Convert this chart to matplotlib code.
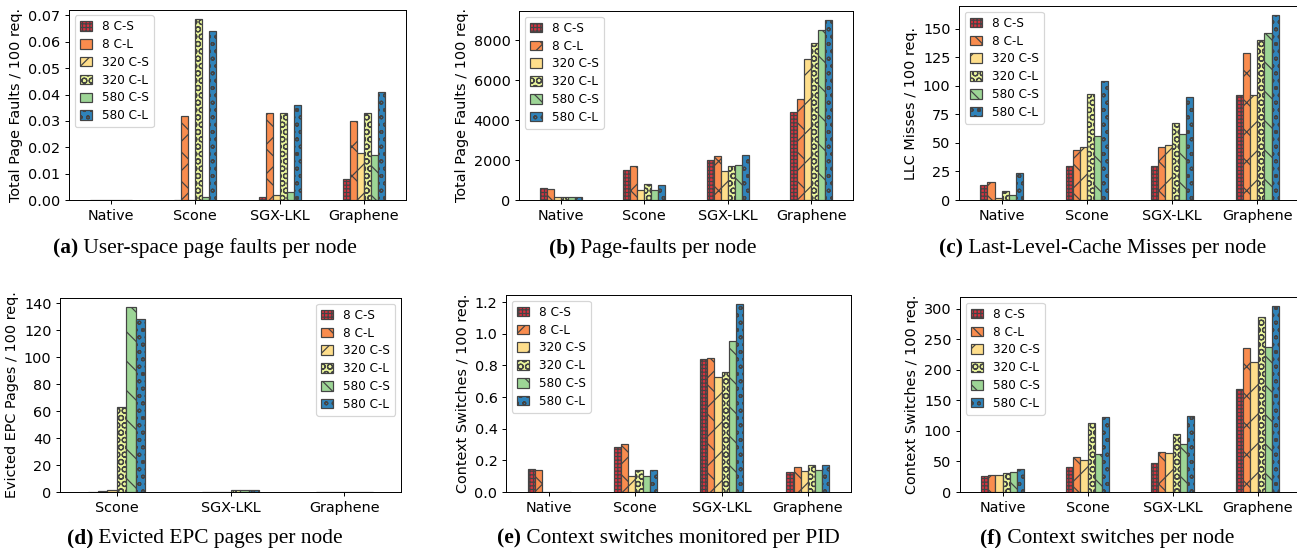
import matplotlib
matplotlib.use("Agg")
import matplotlib.pyplot as plt
import numpy as np

# ---------------- data ----------------
series = ["8 C-S", "8 C-L", "320 C-S", "320 C-L", "580 C-S", "580 C-L"]
cats4 = ["Native", "Scone", "SGX-LKL", "Graphene"]
cats3 = ["Scone", "SGX-LKL", "Graphene"]

# (a) user-space page faults per node
a_8cs = [0, 0, 0.001, 0.008]
a_8cl = [0, 0.032, 0.033, 0.030]
a_320cs = [0, 0, 0.002, 0.018]
a_320cl = [0, 0.0688, 0.033, 0.033]
a_580cs = [0, 0.001, 0.003, 0.017]
a_580cl = [0, 0.064, 0.036, 0.041]

# (b) page faults per node
b_8cs = [600, 1500, 2000, 4390]
b_8cl = [550, 1715, 2215, 5040]
b_320cs = [150, 515, 1450, 7055]
b_320cl = [165, 815, 1700, 7850]
b_580cs = [165, 515, 1750, 8500]
b_580cl = [165, 765, 2245, 9000]

# (c) LLC misses per node
c_8cs = [13, 30, 30, 92]
c_8cl = [15.5, 44, 46.5, 128.5]
c_320cs = [2, 46.5, 48, 92.5]
c_320cl = [7.5, 93, 67.5, 140]
c_580cs = [4, 56.5, 57.5, 146.5]
c_580cl = [24, 104, 90, 162]

# (d) evicted EPC pages per node
d_8cs = [0.3, 0.3, 0.3]
d_8cl = [0.6, 0.3, 0.3]
d_320cs = [1.5, 0.3, 0.3]
d_320cl = [63.3, 1.5, 0.3]
d_580cs = [137, 1.8, 0.3]
d_580cl = [128, 1.8, 0.3]

# (e) context switches monitored per PID
e_8cs = [0.148, 0.287, 0.837, 0.124]
e_8cl = [0.141, 0.306, 0.844, 0.158]
e_320cs = [0, 0.103, 0.725, 0.131]
e_320cl = [0, 0.141, 0.757, 0.173]
e_580cs = [0, 0.101, 0.951, 0.137]
e_580cl = [0, 0.141, 1.185, 0.173]

# (f) context switches per node
f_8cs = [26.5, 40.5, 47, 168.5]
f_8cl = [28, 58, 66, 235.5]
f_320cs = [27.5, 52.5, 64, 212.5]
f_320cl = [31, 113, 95.5, 287]
f_580cs = [33.5, 63, 78, 237]
f_580cl = [37.5, 123.5, 125, 304]

ylabels = ["Total Page Faults / 100 req.", "Total Page Faults / 100 req.",
           "LLC Misses / 100 req.", "Evicted EPC Pages / 100 req.",
           "Context Switches / 100 req.", "Context Switches / 100 req."]
caption_tags = ["(a)", "(b)", "(c)", "(d)", "(e)", "(f)"]
caption_texts = ["User-space page faults per node", "Page-faults per node",
                 "Last-Level-Cache Misses per node", "Evicted EPC pages per node",
                 "Context switches monitored per PID", "Context switches per node"]

# ---------------- style ----------------
colors = ['#d7313f', '#f98c4e', '#fede8b', '#eaf69c', '#9dd596', '#2f83ba']
hatches = ['++++', 'x', '/', 'OO', '\\', 'oo']
EDGE = '#444444'

DPI = 88
W, H = 1297, 548
plt.rcParams['hatch.color'] = EDGE
plt.rcParams['hatch.linewidth'] = 1.0
plt.rcParams['font.family'] = ['DejaVu Sans']

fig = plt.figure(figsize=(W / DPI, H / DPI), dpi=DPI)

def px_axes(l, t, r, b):
    return fig.add_axes([l / W, 1 - b / H, (r - l) / W, (b - t) / H])

panels = [
    (px_axes(69, 9.5, 406, 200), cats4, [a_8cs, a_8cl, a_320cs, a_320cl, a_580cs, a_580cl], 'upper left', 0.01),
    (px_axes(519, 11, 853, 200), cats4, [b_8cs, b_8cl, b_320cs, b_320cl, b_580cs, b_580cl], 'upper left', 2000),
    (px_axes(959, 6, 1300, 200), cats4, [c_8cs, c_8cl, c_320cs, c_320cl, c_580cs, c_580cl], 'upper left', 25),
    (px_axes(60, 298, 401, 492), cats3, [d_8cs, d_8cl, d_320cs, d_320cl, d_580cs, d_580cl], 'upper right', 20),
    (px_axes(506, 295, 851, 492), cats4, [e_8cs, e_8cl, e_320cs, e_320cl, e_580cs, e_580cl], 'upper left', 0.2),
    (px_axes(960, 297, 1300, 492), cats4, [f_8cs, f_8cl, f_320cs, f_320cl, f_580cs, f_580cl], 'upper left', 50),
]

width = 0.5 / 6
for idx, (ax, cats, data, loc, step) in enumerate(panels):
    x = np.arange(len(cats))
    for i, (vals, name) in enumerate(zip(data, series)):
        ax.bar(x + (i - 2.5) * width, vals, width, color=colors[i], edgecolor=EDGE,
               linewidth=1.0, hatch=hatches[i], label=name)
    ax.set_xlim(-0.5, len(cats) - 0.5)
    ax.set_xticks(x)
    ax.set_xticklabels(cats)
    ax.yaxis.set_major_locator(matplotlib.ticker.MultipleLocator(step))
    ax.tick_params(labelsize=11.8)
    ax.set_ylabel(ylabels[idx], fontsize=11.8)
    ax.legend(loc=loc, fontsize=9.8, handlelength=1.0, handleheight=0.85,
              handletextpad=0.85, labelspacing=0.4)

# ---------------- captions ----------------
cap_pos = [(205, 248), (653, 248), (1103, 248), (205, 538), (668, 538), (1107, 538)]
renderer = fig.canvas.get_renderer()
for (cx, cy), tag, txt in zip(cap_pos, caption_tags, caption_texts):
    t1 = fig.text(0, 0, tag, fontsize=17.5, fontweight='bold', family='Liberation Serif',
                  va='center', ha='left')
    t2 = fig.text(0, 0, ' ' + txt, fontsize=17.5, family='Liberation Serif',
                  va='center', ha='left')
    w1 = t1.get_window_extent(renderer).width
    w2 = t2.get_window_extent(renderer).width
    x0 = cx - (w1 + w2) / 2
    t1.set_position((x0 / W, 1 - cy / H))
    t2.set_position(((x0 + w1) / W, 1 - cy / H))

fig.savefig("out.png", dpi=DPI)
